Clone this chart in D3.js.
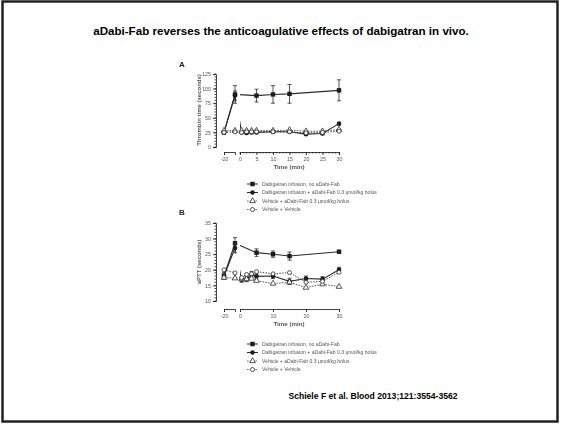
<html>
<head>
<script src="https://d3js.org/d3.v7.min.js"></script>
<style>
  body { margin: 0; background: #fff; }
  text { font-family: "Liberation Sans", Arial, sans-serif; }
</style>
</head>
<body>
<div id="chart"></div>
<script>
// time points (min); negative = during dabigatran infusion, before the axis break
var timesFull = [-20, -1, 0.5, 2, 3.5, 5, 10, 15, 20, 25, 30];
var timesShort = [-20, -1, 5, 10, 15, 30];

var legendLabels = [
  "Dabigatran infusion, no aDabi-Fab",
  "Dabigatran infusion + aDabi-Fab 0.3 \u00b5mol/kg bolus",
  "Vehicle + aDabi-Fab 0.3 \u00b5mol/kg bolus",
  "Vehicle + Vehicle"
];

// panel A: thrombin time (seconds)
var ttNoFab = [25, 90, 88, 90, 91, 97];
var ttNoFabErr = [3, 15, 11, 15, 16, 18];
var ttFab = [25, 88, 25, 24, 25, 25, 26, 26, 22, 23, 40];
var ttFabErr = [2, 8, 2, 2, 2, 2, 2, 2, 2, 2, 2];
var ttVehFab = [28, 28, 28, 28, 28, 28, 28, 29, 27, 27, 30];
var ttVehVeh = [25, 26, 25, 26, 26, 26, 26, 26, 24, 25, 27];
var ttTicks = [0, 25, 50, 75, 100, 125];

// panel B: aPTT (seconds)
var apNoFab = [18, 28.5, 25.5, 25, 24.4, 25.8];
var apNoFabErr = [1, 1.8, 1.2, 1, 1.3, 0.4];
var apFab = [18, 27, 16.8, 17, 18.5, 17.9, 18, 16.3, 17.2, 17, 20];
var apFabErr = [1, 1.5, 0.8, 0.8, 1, 0.8, 0.8, 1, 0.8, 0.8, 0.8];
var apVehFab = [17.5, 17.3, 17, 17, 17.2, 16.5, 15.6, 16, 14.3, 15.4, 14.6];
var apVehVeh = [20, 19, 17.5, 18.5, 18.7, 19.4, 18.7, 19.1, 16, 16.3, 19.2];
var apTicks = [10, 15, 20, 25, 30, 35];

var xLabelsLeft = [-20];
var xLabelsRightA = [0, 5, 10, 15, 20, 25, 30];
var xLabelsRightB = [0, 10, 20, 30];

var W = 561, H = 424;
var ink = "#2b2b2b", txt = "#555";

var svg = d3.select("#chart").append("svg")
  .attr("width", W).attr("height", H);

svg.append("rect")
  .attr("x", 2.5).attr("y", 1.5)
  .attr("width", 555).attr("height", 420)
  .attr("fill", "none").attr("stroke", "#222").attr("stroke-width", 2.5);

svg.append("text")
  .attr("x", 281).attr("y", 35)
  .attr("text-anchor", "middle")
  .attr("font-size", 11.6).attr("font-weight", "bold")
  .text("aDabi-Fab reverses the anticoagulative effects of dabigatran in vivo.");

svg.append("text")
  .attr("x", 373).attr("y", 399)
  .attr("text-anchor", "middle")
  .attr("font-size", 8.6).attr("font-weight", "bold")
  .text("Schiele F et al. Blood 2013;121:3554-3562");

var blur = svg.append("defs").append("filter").attr("id", "soft");
blur.append("feGaussianBlur").attr("stdDeviation", 0.35);

function panel(cfg) {
  var g = svg.append("g").attr("filter", "url(#soft)");
  var xL = d3.scaleLinear().domain([-20, -1]).range([224, 235]);
  var xR = d3.scaleLinear().domain([0, 30]).range([240, 339]);
  var xp = function(t) { return t < 0 ? xL(t) : xR(t); };
  var y = d3.scaleLinear().domain(cfg.yDomain).range(cfg.yRange);

  // y axis
  var yAxis = d3.axisLeft(y).tickValues(cfg.yTicks).tickSize(3).tickPadding(2);
  var ya = g.append("g").attr("transform", "translate(216,0)").call(yAxis);
  var yMinor = d3.range(cfg.yDomain[0], cfg.yDomain[1] + 0.001, cfg.yMinor);
  ya.selectAll(".minor").data(yMinor).enter().append("line")
    .attr("class", "minor")
    .attr("x1", -1.5).attr("x2", 0)
    .attr("y1", function(d) { return y(d); }).attr("y2", function(d) { return y(d); })
    .attr("stroke", ink).attr("stroke-width", 0.6);

  // broken x axis
  var axY = cfg.xAxisY;
  var axL = d3.axisBottom(xL).tickValues(xLabelsLeft).tickSize(3).tickPadding(2).tickSizeOuter(3);
  var axR = d3.axisBottom(xR).tickValues(cfg.xLabels).tickSize(3).tickPadding(2).tickSizeOuter(3);
  var gl = g.append("g").attr("transform", "translate(0," + axY + ")").call(axL);
  var gr = g.append("g").attr("transform", "translate(0," + axY + ")").call(axR);
  if (cfg.xMinor) {
    gr.selectAll(".minor").data(d3.range(0, 31, 1)).enter().append("line")
      .attr("class", "minor")
      .attr("x1", function(d) { return xR(d); }).attr("x2", function(d) { return xR(d); })
      .attr("y1", 0).attr("y2", 1.5)
      .attr("stroke", ink).attr("stroke-width", 0.6);
  }
  [ya, gl, gr].forEach(function(a) {
    a.selectAll("path, line").attr("stroke", ink).attr("stroke-width", 0.9);
    a.selectAll("text").attr("font-size", 5.3).attr("fill", txt)
      .attr("font-family", "Liberation Sans, Arial, sans-serif");
  });
  gl.selectAll(".tick text").text(function(d) { return d; });

  // labels
  g.append("text").attr("x", 179).attr("y", cfg.letterY)
    .attr("font-size", 8).attr("font-weight", "bold").attr("fill", "#222").text(cfg.letter);
  g.append("text")
    .attr("transform", "translate(201," + cfg.yLabelY + ") rotate(-90)")
    .attr("text-anchor", "middle").attr("font-size", 6).attr("font-weight", "bold")
    .attr("fill", txt).text(cfg.yLabel);
  g.append("text").attr("x", 289).attr("y", axY + 17)
    .attr("text-anchor", "middle").attr("font-size", 6.2).attr("font-weight", "bold")
    .attr("fill", txt).text("Time (min)");

  // clip so lines do not cross the axis break gap
  var cid = "clip" + cfg.letter;
  var cp = g.append("clipPath").attr("id", cid);
  cp.append("rect").attr("x", 210).attr("y", 0).attr("width", 26).attr("height", H);
  cp.append("rect").attr("x", 240).attr("y", 0).attr("width", 110).attr("height", H);

  var line = d3.line().x(function(d) { return xp(d.t); }).y(function(d) { return y(d.v); });

  cfg.series.forEach(function(s) {
    var pts = s.times.map(function(t, i) {
      return { t: t, v: s.values[i], e: s.err ? s.err[i] : 0 };
    });
    g.append("path").datum(pts)
      .attr("d", line).attr("clip-path", "url(#" + cid + ")")
      .attr("fill", "none").attr("stroke", ink)
      .attr("stroke-width", s.dashed ? 0.8 : 1.1)
      .attr("stroke-dasharray", s.dashed ? "1.6,1.2" : null);

    // error bars
    var eb = g.append("g");
    pts.filter(function(d) { return d.e > 0; }).forEach(function(d) {
      var x = xp(d.t);
      eb.append("line").attr("x1", x).attr("x2", x)
        .attr("y1", y(d.v - d.e)).attr("y2", y(d.v + d.e))
        .attr("stroke", ink).attr("stroke-width", 0.8);
      [d.v - d.e, d.v + d.e].forEach(function(v) {
        eb.append("line").attr("x1", x - 2).attr("x2", x + 2)
          .attr("y1", y(v)).attr("y2", y(v))
          .attr("stroke", ink).attr("stroke-width", 0.8);
      });
    });

    drawMarkers(g, pts.map(function(d) { return [xp(d.t), y(d.v)]; }), s.marker);
  });

  // legend
  legendLabels.forEach(function(lab, i) {
    var ly = cfg.legendY + i * 8.5;
    var s = cfg.series[i];
    g.append("line").attr("x1", 247).attr("x2", 258).attr("y1", ly).attr("y2", ly)
      .attr("stroke", ink).attr("stroke-width", s.dashed ? 0.7 : 1)
      .attr("stroke-dasharray", s.dashed ? "1.6,1.2" : null);
    drawMarkers(g, [[252.5, ly]], s.marker);
    g.append("text").attr("x", 262).attr("y", ly + 1.8)
      .attr("font-size", 5.1).attr("fill", txt).text(lab);
  });
}

function drawMarkers(g, xy, kind) {
  xy.forEach(function(p) {
    if (kind === "square") {
      g.append("rect").attr("x", p[0] - 2.2).attr("y", p[1] - 2.2)
        .attr("width", 4.4).attr("height", 4.4).attr("fill", "#1a1a1a");
    } else if (kind === "dot") {
      g.append("circle").attr("cx", p[0]).attr("cy", p[1]).attr("r", 2.3).attr("fill", "#1a1a1a");
    } else if (kind === "triangle") {
      g.append("path")
        .attr("d", d3.symbol().type(d3.symbolTriangle).size(14)())
        .attr("transform", "translate(" + p[0] + "," + p[1] + ")")
        .attr("fill", "#fff").attr("stroke", ink).attr("stroke-width", 0.8);
    } else {
      g.append("circle").attr("cx", p[0]).attr("cy", p[1]).attr("r", 2)
        .attr("fill", "#fff").attr("stroke", ink).attr("stroke-width", 0.8);
    }
  });
}

panel({
  letter: "A", letterY: 67,
  yDomain: [0, 125], yRange: [147, 74], yTicks: ttTicks, yMinor: 5,
  yLabel: "Thrombin time (seconds)", yLabelY: 110,
  xAxisY: 152, xLabels: xLabelsRightA, xMinor: true,
  legendY: 184,
  series: [
    { times: timesShort, values: ttNoFab, err: ttNoFabErr, marker: "square" },
    { times: timesFull, values: ttFab, err: ttFabErr, marker: "dot" },
    { times: timesFull, values: ttVehFab, marker: "triangle", dashed: true },
    { times: timesFull, values: ttVehVeh, marker: "circle", dashed: true }
  ]
});

panel({
  letter: "B", letterY: 215,
  yDomain: [10, 35], yRange: [301, 223], yTicks: apTicks, yMinor: 1,
  yLabel: "aPTT (seconds)", yLabelY: 262,
  xAxisY: 309, xLabels: xLabelsRightB, xMinor: false,
  legendY: 344,
  series: [
    { times: timesShort, values: apNoFab, err: apNoFabErr, marker: "square" },
    { times: timesFull, values: apFab, err: apFabErr, marker: "dot" },
    { times: timesFull, values: apVehFab, marker: "triangle", dashed: true },
    { times: timesFull, values: apVehVeh, marker: "circle", dashed: true }
  ]
});
</script>
</body>
</html>
